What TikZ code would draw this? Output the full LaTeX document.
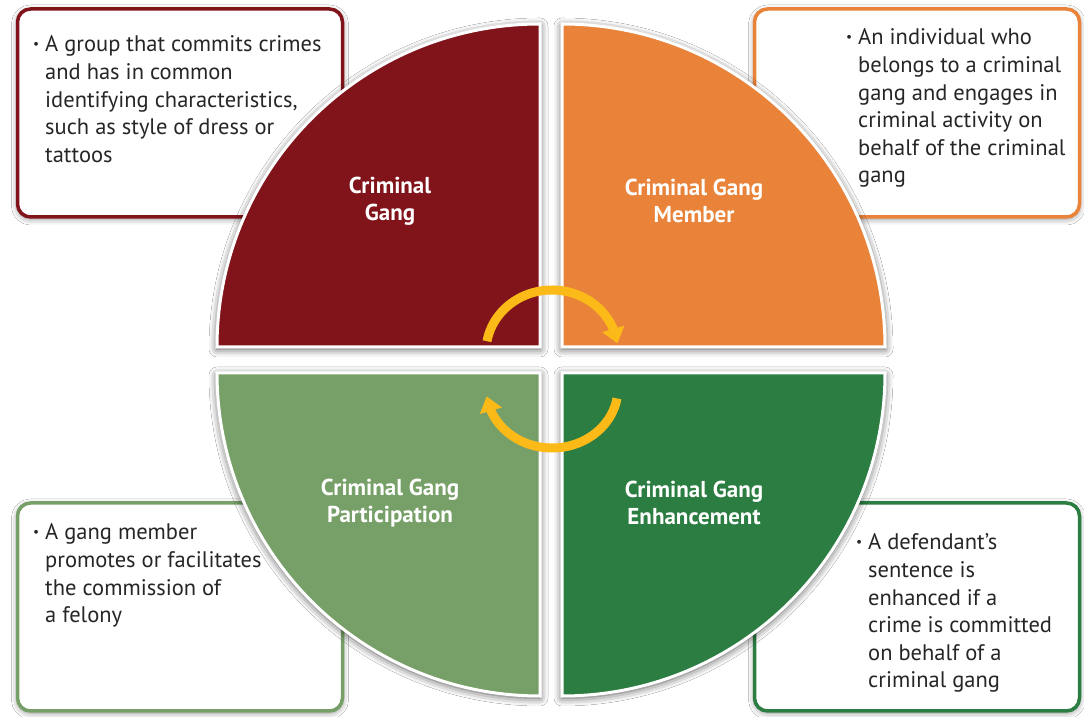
\documentclass[tikz,border=0pt]{standalone}
\usepackage{fontspec}
\setmainfont{PT Sans}
\usepackage{xcolor}
\usetikzlibrary{arrows.meta, bending, shadows.blur, positioning}

\definecolor{gangred}{RGB}{128,20,26}
\definecolor{gangorange}{RGB}{233,131,58}
\definecolor{ganglight}{RGB}{119,160,104}
\definecolor{gangdark}{RGB}{43,125,65}
\definecolor{gangarrow}{RGB}{252,186,24}

\newcommand{\gbul}{\makebox[12pt][l]{\raisebox{0.3ex}{\scalebox{0.6}{\textbullet}}}}
\newcommand{\descsize}{\fontsize{22.5}{27.6}\selectfont}
\newcommand{\namesize}{\fontsize{23}{27}\selectfont}

\begin{document}
\begin{tikzpicture}[x=1pt, y=1pt,
        card/.style={draw, line width=3.5pt, rounded corners=13pt, fill=white,
            minimum width=325pt, minimum height=208pt,
            blur shadow={shadow xshift=0pt, shadow yshift=-2pt, shadow blur radius=6pt, shadow opacity=45}},
        desc/.style={anchor=base west, inner sep=0pt, text=black!85, font=\descsize},
        part/.style={draw=white, line width=3pt,
            blur shadow={shadow xshift=0pt, shadow yshift=-2pt, shadow blur radius=8pt, shadow opacity=70}},
        partname/.style={text=white, align=center, font=\namesize\bfseries},
        turn/.style={draw=gangarrow, line width=9pt, -{Triangle[width=22pt, length=15pt]}}]
                        \useasboundingbox (0,0) rectangle (1084,717);
                        \fill[white] (0,0) rectangle (1084,717);
                        % definition cards
                        \node[card, draw=gangred] (gangbox) at (180,604) {};
                        \node[card, draw=gangorange] (memberbox) at (917,604) {};
                        \node[card, draw=ganglight] (participationbox) at (180,110) {};
                        \node[card, draw=gangdark] (enhancementbox) at (917,110) {};
                        \node[desc] (gangtext) at (33,665) {\begin{tabular}[t]{@{}l@{}l@{}}
                            \gbul & A group that commits crimes\\
                            & and has in common\\
                            & identifying characteristics,\\
                            & such as style of dress or\\
                            & tattoos
                        \end{tabular}};
                        \node[desc] (membertext) at (846,672) {\begin{tabular}[t]{@{}l@{}l@{}}
                            \gbul & An individual who\\
                            & belongs to a criminal\\
                            & gang and engages in\\
                            & criminal activity on\\
                            & behalf of the criminal\\
                            & gang
                        \end{tabular}};
                        \node[desc] (participationtext) at (33,177) {\begin{tabular}[t]{@{}l@{}l@{}}
                            \gbul & A gang member\\
                            & promotes or facilitates\\
                            & the commission of\\
                            & a felony
                        \end{tabular}};
                        \node[desc] (enhancementtext) at (856,167) {\begin{tabular}[t]{@{}l@{}l@{}}
                            \gbul & A defendant’s\\
                            & sentence is\\
                            & enhanced if a\\
                            & crime is committed\\
                            & on behalf of a\\
                            & criminal gang
                        \end{tabular}};
                        % quarters
                        \path[part, fill=gangred] (540,370) -- (217,370) arc[start angle=180, end angle=90, radius=323] -- cycle;
                        \path[part, fill=gangorange] (562,370) -- (562,693) arc[start angle=90, end angle=0, radius=323] -- cycle;
                        \path[part, fill=ganglight] (540,344) -- (217,344) arc[start angle=180, end angle=270, radius=323] -- cycle;
                        \path[part, fill=gangdark] (562,344) -- (885,344) arc[start angle=0, end angle=-90, radius=323] -- cycle;
                        \node[partname] (gang) at (390,516) {Criminal\\Gang};
                        \node[partname] (member) at (694,516) {Criminal Gang\\Member};
                        \node[partname] (participation) at (390,214) {Criminal Gang\\Participation};
                        \node[partname] (enhancement) at (694,214) {Criminal Gang\\Enhancement};
                        % cycle arrows
                        \coordinate (upper) at (552,365);
                        \coordinate (lower) at (552,329);
                        \draw[turn] ([shift={(170:66 and 62)}]upper) arc[start angle=170, end angle=8, x radius=66, y radius=62];
                        \draw[turn] ([shift={(-10:66 and 60)}]lower) arc[start angle=-10, end angle=-172, x radius=66, y radius=60];
                    \end{tikzpicture}
\end{document}
